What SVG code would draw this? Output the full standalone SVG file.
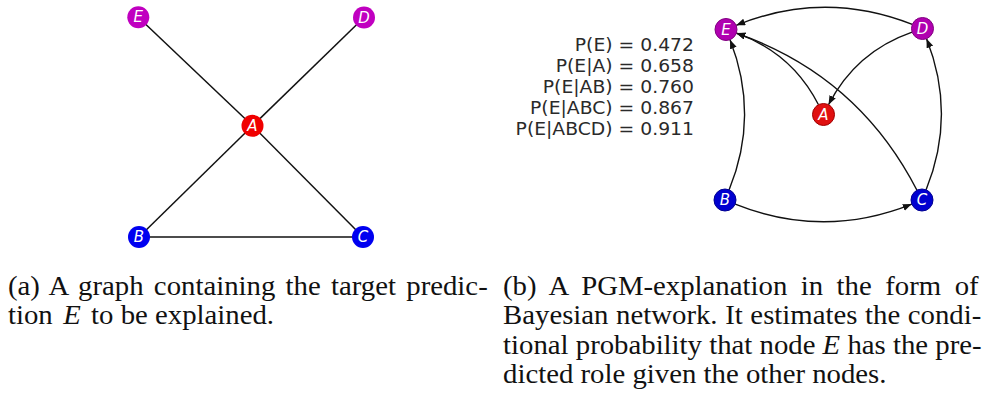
<svg xmlns="http://www.w3.org/2000/svg" width="988" height="417" viewBox="0 0 988 417">
  <style>
    .edge { fill: none; stroke: #111; stroke-width: 1.5; }
    .arc { fill: none; stroke: #111; stroke-width: 1.4; marker-end: url(#head); }
    .lbl { font-family: "DejaVu Sans", sans-serif; font-style: italic; font-size: 15px; fill: #fff; text-anchor: middle; dominant-baseline: central; }
    .mag { fill: #c000c0; }
    .red { fill: #f00000; }
    .blu { fill: #0000f0; }
    .mag2 { fill: #b000b0; stroke: #800080; stroke-width: 1; }
    .red2 { fill: #e01010; stroke: #a00000; stroke-width: 1; }
    .blu2 { fill: #0000d0; stroke: #000090; stroke-width: 1; }
    .prob { font-family: "DejaVu Sans", sans-serif; font-size: 17.6px; fill: #2a2a2a; text-anchor: end; }
    .cap { font-family: "Liberation Serif", "Times New Roman", serif; font-size: 27px; fill: #111; }
    .it { font-style: italic; }
  </style>
  <defs>
    <marker id="head" markerUnits="userSpaceOnUse" markerWidth="10" markerHeight="8" refX="9" refY="3.5" orient="auto">
      <path d="M0,0 L9,3.5 L0,7 z" fill="#111"/>
    </marker>
  </defs>
  <rect width="988" height="417" fill="#fff"/>

  <!-- (a) undirected graph -->
  <g id="graph-a-edges">
    <line class="edge" x1="138.3" y1="17.3" x2="252.5" y2="125.8"/>
    <line class="edge" x1="364" y1="17.5" x2="252.5" y2="125.8"/>
    <line class="edge" x1="252.5" y1="125.8" x2="139" y2="237"/>
    <line class="edge" x1="252.5" y1="125.8" x2="363" y2="237"/>
    <line class="edge" x1="139" y1="237" x2="363" y2="237"/>
  </g>
  <g id="a-node-E"><circle class="mag" cx="138.3" cy="17.3" r="11"/><text class="lbl" x="138.3" y="17.3">E</text></g>
  <g id="a-node-D"><circle class="mag" cx="364" cy="17.5" r="11"/><text class="lbl" x="364" y="17.5">D</text></g>
  <g id="a-node-A"><circle class="red" cx="252.5" cy="125.8" r="11"/><text class="lbl" x="252.5" y="125.8">A</text></g>
  <g id="a-node-B"><circle class="blu" cx="139" cy="237" r="11"/><text class="lbl" x="139" y="237">B</text></g>
  <g id="a-node-C"><circle class="blu" cx="363" cy="237" r="11"/><text class="lbl" x="363" y="237">C</text></g>

  <!-- (b) Bayesian network, arcs drawn as quadratic curves -->
  <g id="graph-b-edges">
    <path class="arc" d="M912.26,24.47 Q824.05,-10.3 736.19,25.36"/>
    <path class="arc" d="M729.15,189.81 Q759.6,114.95 730.03,39.74"/>
    <path class="arc" d="M926.12,189.8 Q956.55,114.35 926.56,38.73"/>
    <path class="arc" d="M735.21,204.09 Q823.5,239.4 911.79,204.09"/>
    <path class="arc" d="M818.49,104.71 Q791.75,52.5 736.38,33.13"/>
    <path class="arc" d="M916.98,190.21 Q858.1,75.55 736.39,33.12"/>
    <path class="arc" d="M912.1,32.11 Q855.8,51.7 828.53,104.72"/>
  </g>
  <g id="b-node-E"><circle class="mag2" cx="726" cy="29.5" r="11"/><text class="lbl" x="726" y="29.5">E</text></g>
  <g id="b-node-D"><circle class="mag2" cx="922.5" cy="28.5" r="11"/><text class="lbl" x="922.5" y="28.5">D</text></g>
  <g id="b-node-A"><circle class="red2" cx="823.5" cy="114.5" r="11"/><text class="lbl" x="823.5" y="114.5">A</text></g>
  <g id="b-node-B"><circle class="blu2" cx="725" cy="200" r="11"/><text class="lbl" x="725" y="200">B</text></g>
  <g id="b-node-C"><circle class="blu2" cx="922" cy="200" r="11"/><text class="lbl" x="922" y="200">C</text></g>

  <!-- conditional probabilities -->
  <g id="probabilities" transform="scale(1.066,1)">
    <text class="prob" x="651" y="51">P(E) = 0.472</text>
    <text class="prob" x="651" y="72">P(E|A) = 0.658</text>
    <text class="prob" x="651" y="93">P(E|AB) = 0.760</text>
    <text class="prob" x="651" y="114">P(E|ABC) = 0.867</text>
    <text class="prob" x="651" y="135">P(E|ABCD) = 0.911</text>
  </g>

  <!-- sub-captions -->
  <g id="captions" transform="scale(1.066,1)">
    <text class="cap" x="7.5" y="295" word-spacing="2.9">(a) A graph containing the target predic-</text>
    <text class="cap" x="7.5" y="324.5">tion <tspan class="it" dx="3">E</tspan><tspan dx="3"> to be explained.</tspan></text>
    <text class="cap" x="471.9" y="295" word-spacing="5.9">(b) A PGM-explanation in the form of</text>
    <text class="cap" x="471.9" y="324.5" word-spacing="0.4">Bayesian network. It estimates the condi-</text>
    <text class="cap" x="471.9" y="354">tional probability that node <tspan class="it">E</tspan> has the pre-</text>
    <text class="cap" x="471.9" y="383.5">dicted role given the other nodes.</text>
  </g>
</svg>
